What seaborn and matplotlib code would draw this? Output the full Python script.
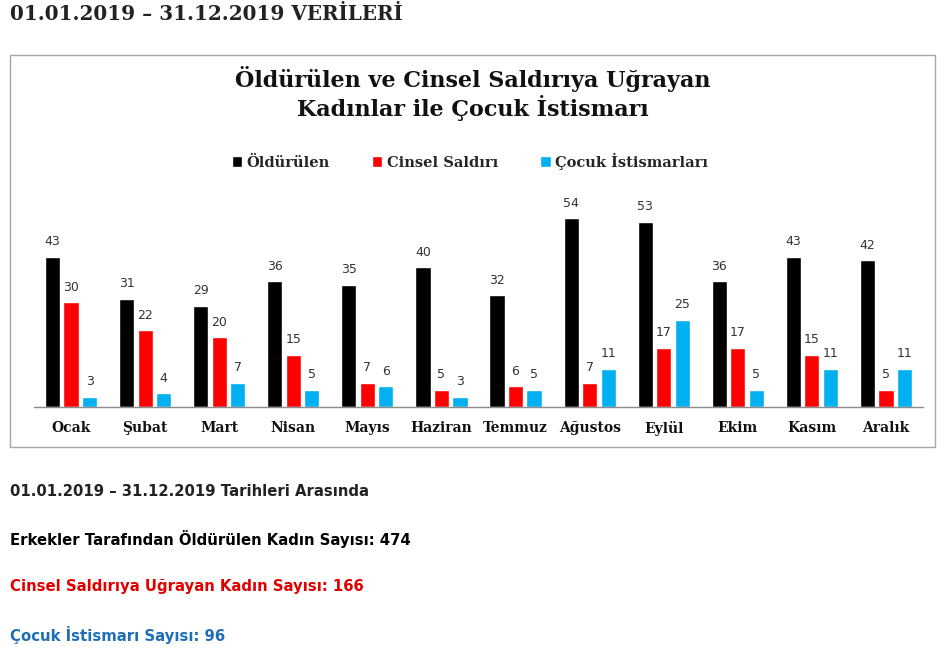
import matplotlib
matplotlib.use("Agg")
import matplotlib.pyplot as plt
import seaborn as sns
import pandas as pd
from matplotlib.patches import Rectangle

# ── DATA ───────────────────────────────────────────────────────────
months = ["Ocak", "Şubat", "Mart", "Nisan", "Mayıs", "Haziran",
          "Temmuz", "Ağustos", "Eylül", "Ekim", "Kasım", "Aralık"]
oldurulen = [43, 31, 29, 36, 35, 40, 32, 54, 53, 36, 43, 42]
cinsel = [30, 22, 20, 15, 7, 5, 6, 7, 17, 17, 15, 5]
cocuk = [3, 4, 7, 5, 6, 3, 5, 11, 25, 5, 11, 11]
series_names = ["Öldürülen", "Cinsel Saldırı", "Çocuk İstismarları"]
series_colors = ["#000000", "#FF0000", "#00B0F0"]

df = pd.DataFrame({
    "Ay": months * 3,
    "Seri": [series_names[0]] * 12 + [series_names[1]] * 12 + [series_names[2]] * 12,
    "Sayı": oldurulen + cinsel + cocuk,
})

sns.set_theme(style="white")
plt.rcParams["font.family"] = ["DejaVu Sans"]

W, H = 950, 657
fig = plt.figure(figsize=(W / 100, H / 100), dpi=100)
fig.patch.set_facecolor("white")

def fx(px):
    return px / W

def fy(py):
    return 1 - py / H

# chart frame
fig.patches.append(Rectangle((fx(10), fy(447)), fx(935) - fx(10), fy(55) - fy(447),
                             transform=fig.transFigure, fill=False,
                             edgecolor="#a6a6a6", linewidth=1.0, zorder=0))

ax = fig.add_axes([fx(34), fy(407), fx(923) - fx(34), fy(197) - fy(407)])
sns.barplot(data=df, x="Ay", y="Sayı", hue="Seri", order=months,
            hue_order=series_names, palette=series_colors, width=0.75,
            gap=0.18, saturation=1, ax=ax, legend=True)

for c in ax.containers:
    ax.bar_label(c, padding=6, fontsize=9, color="#333333")

ax.set_ylim(0, 60)
ax.set_xlim(-0.5, 11.5)
ax.set_xlabel("")
ax.set_ylabel("")
ax.set_yticks([])
for s in ["top", "right", "left"]:
    ax.spines[s].set_visible(False)
ax.spines["bottom"].set_color("#8c8c8c")
ax.spines["bottom"].set_linewidth(1.0)
ax.tick_params(axis="x", length=0, pad=10)
for lab in ax.get_xticklabels():
    lab.set_fontfamily("DejaVu Serif")
    lab.set_fontweight("bold")
    lab.set_fontsize(10)
    lab.set_color("#111111")

handles, labels = ax.get_legend_handles_labels()
ax.get_legend().remove()
fig.legend(handles, labels, loc="center", bbox_to_anchor=(fx(470), fy(161)),
           ncol=3, frameon=False, handlelength=0.7, handleheight=0.7,
           handletextpad=0.3, columnspacing=2.9,
           prop={"family": "DejaVu Serif", "weight": "bold", "size": 10.5})

# chart title
fig.text(fx(473), fy(79), "Öldürülen ve Cinsel Saldırıya Uğrayan",
         ha="center", va="center", family="DejaVu Serif", weight="bold",
         fontsize=16, color="#111111")
fig.text(fx(473), fy(108), "Kadınlar ile Çocuk İstismarı",
         ha="center", va="center", family="DejaVu Serif", weight="bold",
         fontsize=16, color="#111111")

# page heading
fig.text(fx(10), fy(14), "01.01.2019 – 31.12.2019 VERİLERİ",
         ha="left", va="center", family="DejaVu Serif", weight="bold",
         fontsize=14.4, color="#222222")

# summary lines
lines = [
    ("01.01.2019 – 31.12.2019 Tarihleri Arasında", "#222222", 491),
    ("Erkekler Tarafından Öldürülen Kadın Sayısı: 474", "#000000", 539),
    ("Cinsel Saldırıya Uğrayan Kadın Sayısı: 166", "#E00000", 587),
    ("Çocuk İstismarı Sayısı: 96", "#1F6FB8", 635),
]
for txt, col, y in lines:
    fig.text(fx(10), fy(y), txt, ha="left", va="center", family="DejaVu Sans",
             weight="bold", fontsize=10.7, color=col)

fig.savefig("out.png", dpi=100, facecolor="white")
